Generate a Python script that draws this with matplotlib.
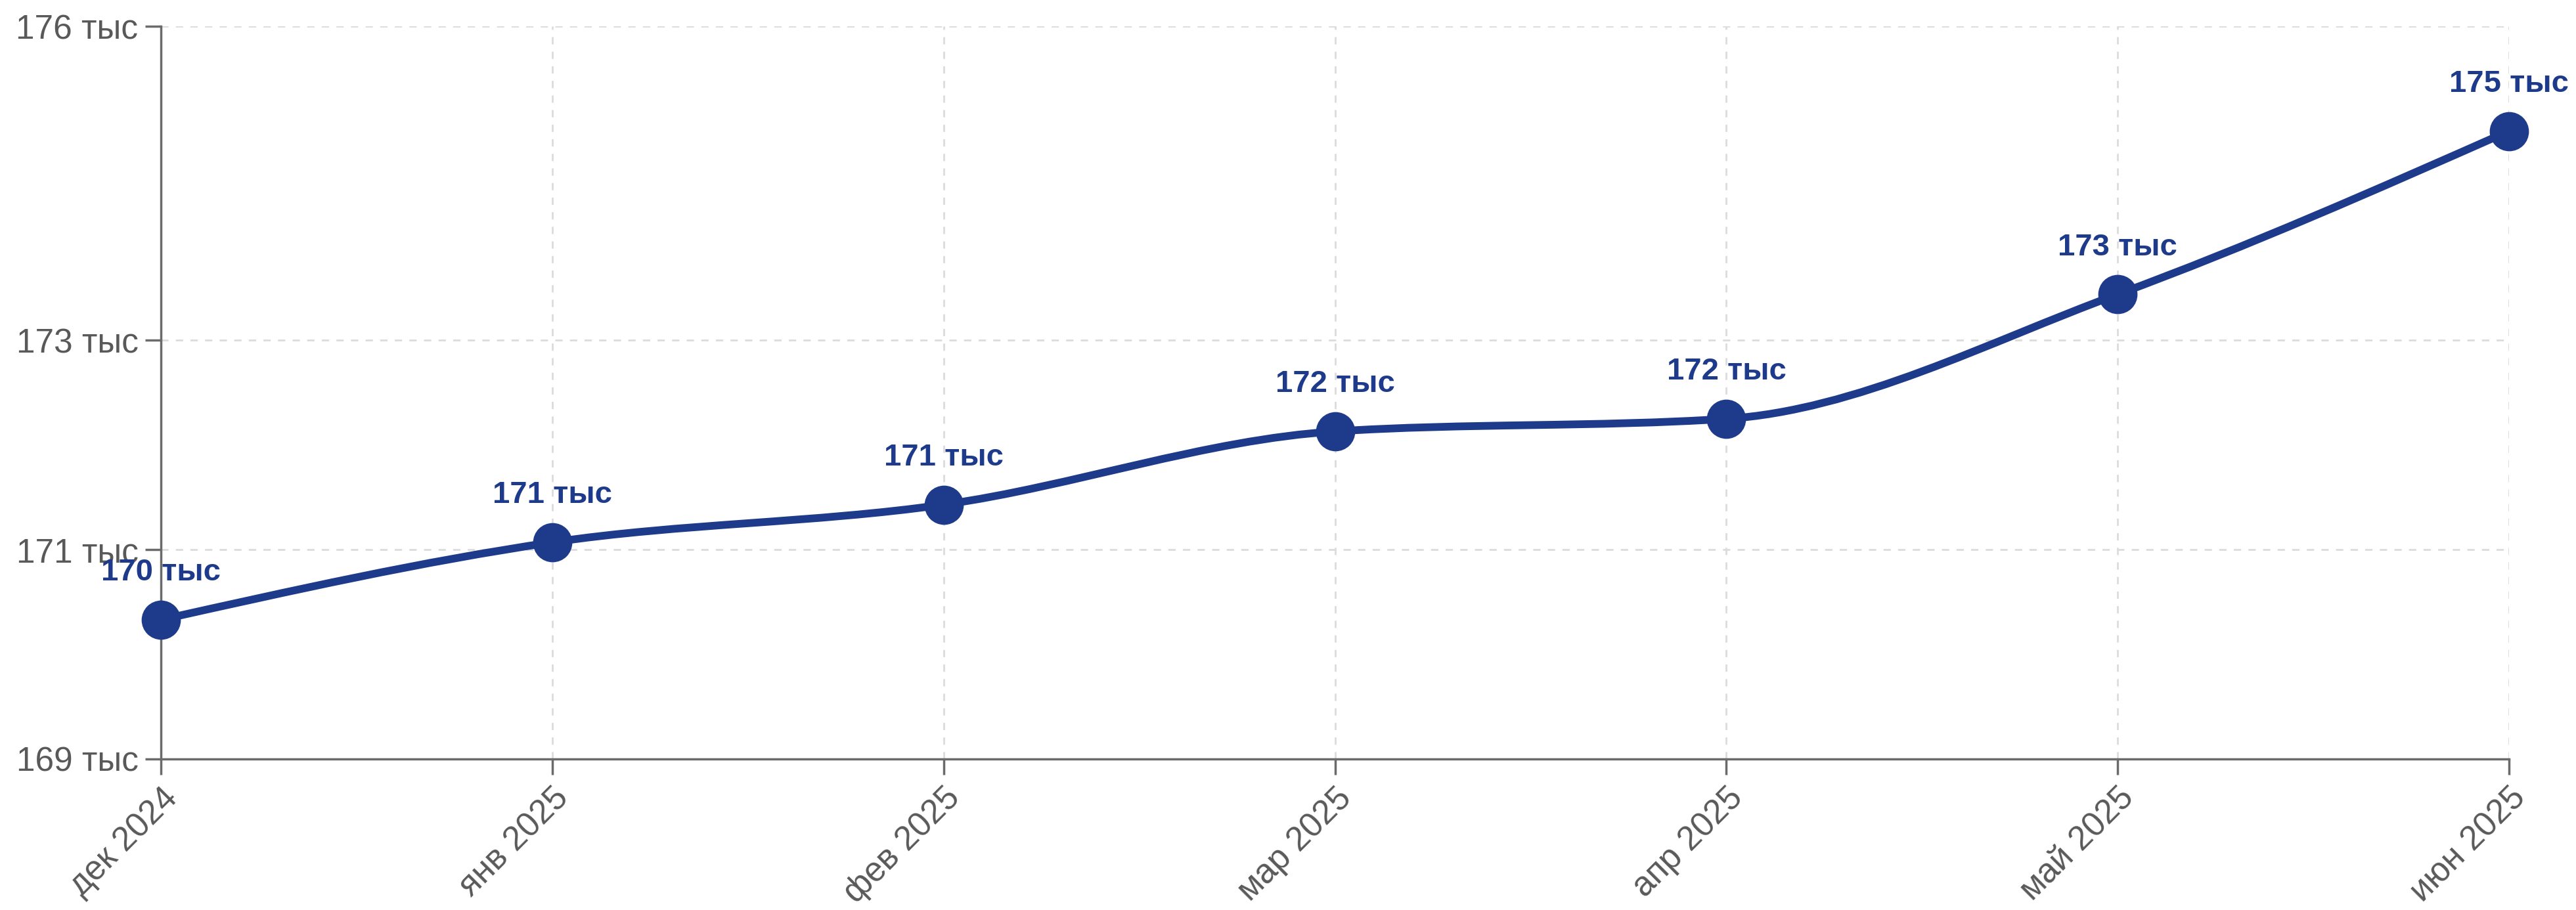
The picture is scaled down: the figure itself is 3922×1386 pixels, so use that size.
import numpy as np
import matplotlib.pyplot as plt
from matplotlib.path import Path
from matplotlib.patches import PathPatch

plt.rcParams['font.family'] = ['Liberation Sans', 'DejaVu Sans']

# data (thousands)
months = ["дек 2024", "янв 2025", "фев 2025", "мар 2025", "апр 2025", "май 2025", "июн 2025"]
values = [170.33, 171.07, 171.43, 172.13, 172.25, 173.44, 175.0]
labels = ["170 тыс", "171 тыс", "171 тыс", "172 тыс", "172 тыс", "173 тыс", "175 тыс"]
yticks = [169, 171, 173, 176]

blue = "#1e3a8a"
grey = "#6b6b6b"


def monotone_path(x, y):
    # monotone-x cubic curve as bezier segments
    x = np.asarray(x, float)
    y = np.asarray(y, float)
    n = len(x)
    t = np.zeros(n)
    for i in range(1, n - 1):
        h0 = x[i] - x[i - 1]
        h1 = x[i + 1] - x[i]
        s0 = (y[i] - y[i - 1]) / h0
        s1 = (y[i + 1] - y[i]) / h1
        p = (s0 * h1 + s1 * h0) / (h0 + h1)
        t[i] = (np.sign(s0) + np.sign(s1)) * min(abs(s0), abs(s1), 0.5 * abs(p))
    h = x[1] - x[0]
    t[0] = (3 * (y[1] - y[0]) / h - t[1]) / 2
    h = x[-1] - x[-2]
    t[-1] = (3 * (y[-1] - y[-2]) / h - t[-2]) / 2
    verts = [(x[0], y[0])]
    codes = [Path.MOVETO]
    for i in range(n - 1):
        dx = (x[i + 1] - x[i]) / 3
        verts += [(x[i] + dx, y[i] + dx * t[i]),
                  (x[i + 1] - dx, y[i + 1] - dx * t[i + 1]),
                  (x[i + 1], y[i + 1])]
        codes += [Path.CURVE4] * 3
    return Path(verts, codes)


xs = np.arange(len(months))

fig = plt.figure(figsize=(39.22, 13.86), dpi=100)
ax = fig.add_axes([0.0625, 0.166, 0.974 - 0.0625, 0.971 - 0.166])

ax.add_patch(PathPatch(monotone_path(xs, values), fill=False, edgecolor=blue,
                       linewidth=8.5, capstyle='round', joinstyle='round', zorder=3))
ax.plot(xs, values, 'o', color=blue, markersize=42, zorder=4, clip_on=False)

for x, v, lab in zip(xs, values, labels):
    ax.annotate(lab, (x, v), xytext=(0, 43), textcoords='offset points',
                ha='center', va='baseline', fontsize=34, fontweight='bold',
                color=blue, zorder=5, annotation_clip=False)

ax.set_xlim(0, 6)
ax.set_ylim(169, 176)
ax.set_xticks(xs)
ax.set_xticklabels(months)
ax.set_yticks(yticks)
ax.set_yticklabels([f"{v} тыс" for v in yticks])

ax.tick_params(axis='both', colors=grey, labelcolor='#595959', labelsize=37,
               length=17, width=2.5, pad=8)
plt.setp(ax.get_xticklabels(), rotation=45, ha='right', va='top', rotation_mode='anchor')

ax.grid(True, color='#dcdcdc', linestyle=(0, (4, 4)), linewidth=2)
ax.set_axisbelow(True)
for s in ['top', 'right']:
    ax.spines[s].set_visible(False)
for s in ['left', 'bottom']:
    ax.spines[s].set_color(grey)
    ax.spines[s].set_linewidth(2.5)

fig.savefig("out.png", dpi=100)
